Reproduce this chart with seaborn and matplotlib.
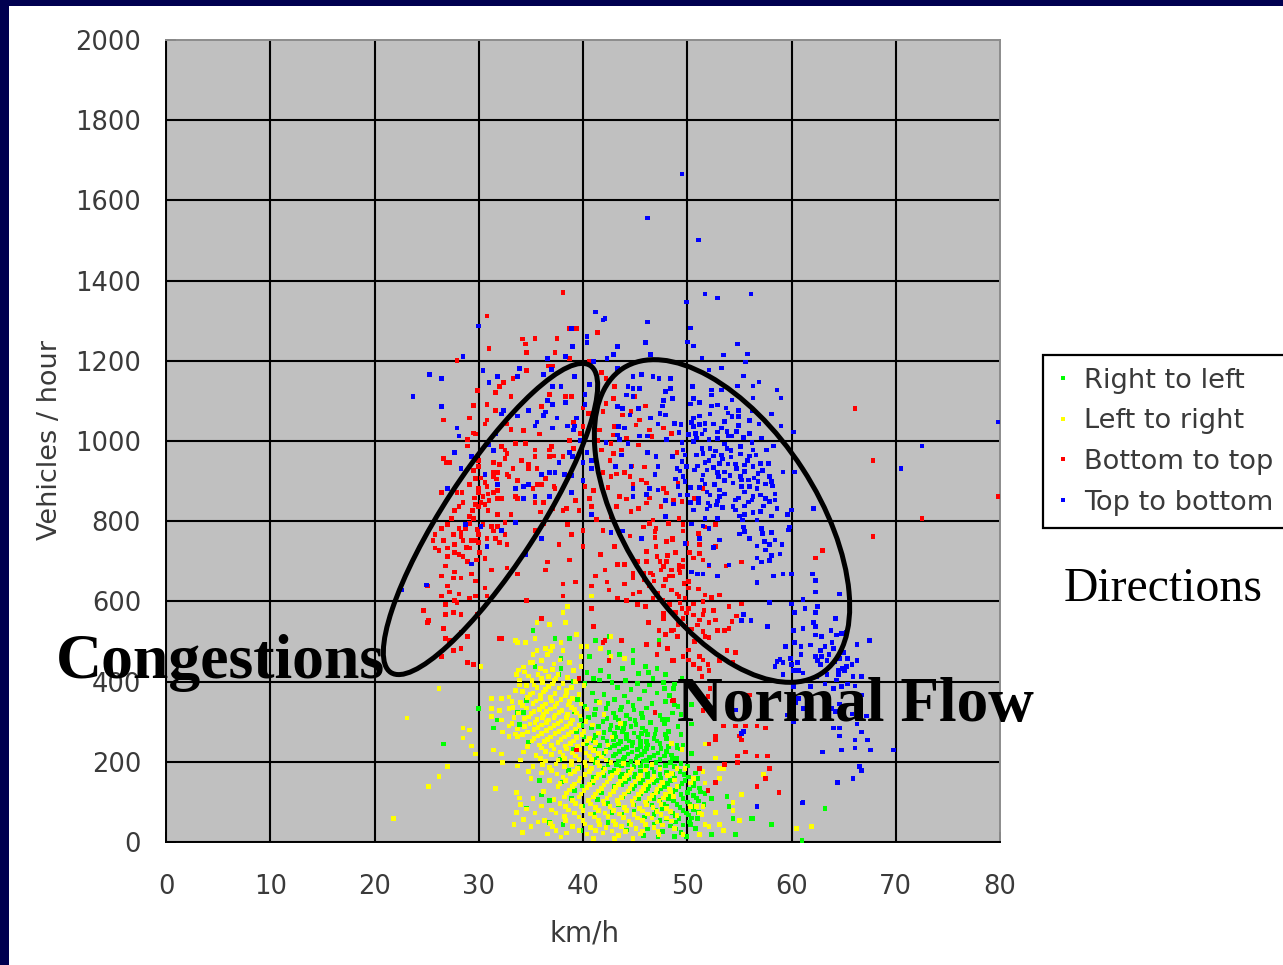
import numpy as np
import pandas as pd
import matplotlib
matplotlib.use("Agg")
import matplotlib.pyplot as plt
import seaborn as sns
from matplotlib.patches import Ellipse, Rectangle
from matplotlib.transforms import IdentityTransform

labels = ["Right to left", "Left to right", "Bottom to top", "Top to bottom"]
colors = ["#00FF00", "#FFFF00", "#FF0000", "#0000FF"]
x_ticks = list(range(0, 81, 10))
y_ticks = list(range(0, 2001, 200))

right_to_left = [
(35.2,528),(37.3,508),(38.7,508),(41.2,503),(42.5,513),(47.3,503),(35.6,478),(42.5,473),(43.5,468),(44.8,478),(40.6,463),(37.9,458),(44.8,453),(44.8,448),(35.4,438),(37.9,433),(40.4,423),(41.7,428),(43.8,433),(46,438),(47.1,433),(46.3,423),(47.9,418),(37.7,418),(42.5,413),(41,408),(30,333),(26.6,244),(31.8,304),(31.4,284),(33.7,323),(34.3,323),(34.6,353),(33.9,293),(34.8,249),(35.8,154),(36,117),(36.8,104),(34.6,84),(40,88),(36.8,49),(38.1,44),(48.8,14),
(63.2,84),(61,4),(58.1,44),(54.6,19),(56.3,59),(56.1,59),(54.4,59),(53.8,114),(54,89),(54.4,79),(52.3,19),(51,59),(50.8,34),(52.3,109),(51.7,121),(50.3,43),(50.4,221),(49.6,242),(49,242),(49,234),(48.5,217),(50.4,294),(49.1,288),(50.4,343),(49.1,338),(48.7,383),(48.8,394),(49.5,408),
(39.1,400),(40.2,395),(41.6,404),(42.8,398),(44.1,402),(45.2,396),(46.4,392),(47.7,397),(43.3,385),(44.6,380),(45.9,377),(40.9,372),(42,368),(47.1,372),(48.3,366),(39.5,356),(41.3,352),(43,356),(44.3,349),(45.4,357),(46.6,346),(47.9,351),(40.2,338),(42.2,333),(43.7,337),(44.9,329),(46.1,334),(39.2,326),(41.1,318),(42.9,322),(44.2,316),(45.6,320),(47.4,315),(48.6,322),(39.8,306),(43.4,304),(41.9,300),(45,303),(46.5,298),(44,296),(47.8,296),(42.7,290),(43.3,286),(44.6,288),(45.7,284),(40.8,284),(47,280),(48.2,276),(39.4,275),(42,273),(43.8,276),(44.9,272),(41.2,266),(46.2,268),(49.4,268),(43.1,262),(44.2,258),(45.3,262),(46.8,258),(48,258),(42.3,252),(43.6,250),(44.8,248),(46.1,250),(47.4,246),(40.4,246),(41.6,240),(43,240),(44.2,236),(45.5,238),(46.7,234),(48.2,238),(39.1,232),(42.2,228),(43.5,226),(44.7,224),(45.9,226),(47.2,222),(40.3,222),(41.5,216),(42.9,214),(44,212),(45.2,214),(46.4,210),(47.8,214),(49,208),(43.4,202),(44.6,200),(45.8,202),(47,198),(48.4,198),(41.2,198),(37.8,205),(39.6,205),(42.4,192),(43.7,190),(44.9,188),(46.1,190),(47.4,186),(48.8,188),(50,190),(38.6,178),(40.6,176),(43,178),(44.3,176),(45.5,176),(46.8,174),(48,174),(49.3,176),(42,166),(43.6,164),(44.9,162),(46.2,162),(47.5,160),(48.8,160),(50.1,162),(38,150),(40.9,148),(44.1,150),(45.5,148),(46.8,148),(48.1,146),(49.5,146),(50.6,148),(43,138),(44.8,134),(46.2,134),(47.5,132),(48.9,130),(50.2,132),(51.2,135),(39.2,128),(41.8,122),(45.5,120),(46.8,118),(48.2,116),(49.4,118),(50.6,116),(43.8,112),(47.4,104),(48.7,102),(50,100),(51.1,102),(46.1,100),(42.4,96),(44.9,92),(48,88),(49.3,86),(50.5,88),(47,78),(48.6,72),(49.9,72),(51.1,74),(41,70),(43.7,70),(45.9,62),(48,58),(49.2,58),(50.4,60),(42.4,48),(46.8,44),(48.4,40),(49.6,42),(44.2,30),(47.6,26),(49.4,24),(39.8,28),(45.8,16),
(42.4,345),(43.6,329),(44.8,341),(45.7,311),(46.9,323),(43.1,311),(44.5,307),(42.3,308),(47.6,305),(42.6,281),(43.9,283),(45.1,293),(46,277),(41.5,288),(44.2,269),(45.6,271),(43,271),(46.9,269),(47.9,268),(42.9,255),(44.4,252),(45.5,251),(41.9,259),(43.4,244),(44.7,240),(46.2,242),(47.1,252),(41.1,232),(42.6,236),(43.9,232),(45.2,230),(46.1,233),(47.5,233),(42,220),(43.1,219),(44.3,219),(45.6,218),(46.8,215),(48,226),(41.1,207),(42.4,204),(43.9,205),(45.1,206),(46.1,203),(47.4,205),(48.6,208),(41.9,185),(43.2,193),(44.3,194),(45.5,191),(46.6,186),(47.9,191),(49.4,196),(42.6,175),(43.8,170),(45,170),(46.2,172),(47.4,168),(48.6,170),(49.7,168),(50.8,172),(44.4,157),(45.7,155),(47.1,154),(48.4,153),(49.8,154),(51,158),(43.7,144),(45,141),(46.3,141),(47.8,139),(49.2,138),(50.6,140),(44.4,126),(46,127),(47.2,125),(48.6,124),(50,124),(51.3,125),(45.3,108),(46.8,108),(48.2,109),(49.6,109),(50.9,110),(46.6,92),(47.7,95),(49,94),(50.2,95),(51.6,93),(47.6,82),(49.6,79),(50.6,80),(48.9,65),(50.1,67),(46.8,68),(47.4,54),(48.9,50),(50.2,50),(44.9,76),(44.4,46),(46.2,32),(48.9,32),(47.2,12),(49.9,14),(41.2,332),(40.5,310),(39.9,291),(41,253),(40.1,262),(39.6,186),(41,162),(39.9,140),(41.4,106),(38.9,108),(43.4,92),(42.8,74),(45.3,420),(47.8,383),(46.7,407),(44,364),(48.8,342),(49.4,318),(48.1,306),(49.3,232)]

left_to_right = [
(38.5,588),(38.1,573),(35.6,548),(36.8,543),(38.3,548),(40.8,613),(39.4,518),(35.4,508),(33.5,503),(33.7,498),(34.5,498),(37.9,498),(39.8,488),(40.4,488),(42.7,513),(41.7,483),(36.4,483),(37.1,488),(35.6,478),(38.1,478),(39.8,463),(35.2,468),(36.6,468),(36,453),(35.2,448),(44,458),(42.7,463),(38.7,448),(39.8,438),(30.2,438),(26.2,383),(23.1,309),(28.5,284),(29.1,279),(28.5,259),(29.3,239),(29.7,219),(31.4,229),(32.2,219),(32.3,199),(27,189),(26.2,164),(25.2,139),(21.8,59),(31.6,134),(31.2,358),(32.2,358),(31.2,333),(32,328),(32.9,333),(31.2,313),(32.2,304),(32.9,289),(32.3,274),(32.9,263),(33.5,269),(33.7,263),(34.3,224),
(51.7,244),(52.7,209),(53.1,184),(53.5,184),(53.1,159),(57.3,169),(55.2,119),(54.4,99),(52.7,74),(55,54),(53.1,44),(53.5,29),(52.1,39),(51.2,19),(60.5,34),(61.9,39),(54.4,79),(51.5,88),(51.2,72),(51.7,147),(50.3,147),(50.6,159),(51.5,176),(49,184),(49.8,184),(48.8,155),(49,138),(48.7,113),(51.4,68),(50.3,88),(50.9,88),(49.6,18),(48.8,34),(48.5,246),(49.5,230),(48.5,171),(51.7,43),
(33.8,429),(35.9,432),(36.4,426),(37.1,430),(39.1,428),(33.6,418),(34.8,414),(35.7,418),(36.7,412),(37.6,418),(38.5,410),(33.9,404),(35.1,402),(36.1,398),(37.2,402),(38.1,396),(39.3,400),(34.6,390),(35.6,386),(36.7,388),(37.7,384),(38.9,386),(40.1,390),(33.5,378),(34.2,376),(35.2,372),(36.2,374),(37.3,370),(38.4,372),(39.6,368),(32.9,362),(34.7,360),(35.9,358),(36.9,360),(37.9,356),(39,358),(34,348),(35.2,346),(36.4,344),(37.5,346),(38.6,342),(39.8,344),(41.6,348),(33.3,336),(34.6,334),(35.8,330),(36.9,332),(38,328),(39.2,330),(40.4,332),(33.8,322),(35,320),(36.2,318),(37.3,316),(38.5,318),(39.7,314),(42,318),(34.4,308),(35.6,306),(36.7,304),(37.9,302),(39,304),(40.3,300),(33.2,296),(34.9,294),(36,292),(37.2,290),(38.4,288),(39.6,290),(40.9,292),(43.6,296),(33.7,282),(35.3,280),(36.5,278),(37.7,276),(38.9,274),(40.1,276),(41.5,272),(34.2,268),(35.7,264),(36.9,262),(38.2,262),(39.4,260),(40.6,258),(42.8,262),(35.1,252),(36.3,250),(37.6,248),(38.8,246),(40,244),(41.2,248),(42.4,242),(34.7,238),(36,234),(37.2,232),(38.4,232),(39.7,230),(41,228),(42.2,226),(35.5,216),(37,218),(38.1,216),(39.3,214),(40.6,214),(41.8,212),(34,204),(36.4,202),(37.6,204),(38.9,200),(40.2,198),(41.4,198),(42.7,198),(43.9,196),(45.2,198),(46.6,194),(35.2,188),(36.8,186),(38.2,188),(39.5,184),(40.8,184),(42.1,182),(43.4,180),(44.7,182),(46,180),(47.4,182),(36,172),(37.5,170),(38.8,170),(40.2,168),(41.5,168),(42.8,166),(44.2,166),(45.5,166),(46.8,164),(48.1,166),(35,158),(36.8,154),(38.3,154),(39.6,152),(41,152),(42.3,150),(43.6,152),(45,150),(46.3,150),(47.6,148),(37.6,138),(39,138),(40.4,136),(41.8,134),(43.1,136),(44.5,134),(45.8,134),(47.1,132),(48.3,132),(33.6,124),(36.2,126),(38.4,122),(39.8,120),(41.2,120),(42.6,118),(44,120),(45.3,118),(46.6,116),(47.9,118),(35.2,108),(37.2,106),(39,104),(40.5,104),(41.9,102),(43.3,104),(44.7,102),(46,100),(47.3,102),(34,94),(36,90),(38.3,88),(39.8,88),(41.2,86),(42.6,88),(44,86),(45.4,84),(46.7,86),(48,84),(33.6,74),(35.4,72),(37.4,72),(39.2,72),(40.7,70),(42.1,72),(43.5,70),(44.9,68),(46.2,70),(47.5,68),(49,66),(34.3,56),(36.3,54),(38.3,54),(40,54),(41.5,54),(42.9,52),(44.4,52),(45.7,54),(47.1,50),(48.5,52),(33.4,44),(35,38),(37.1,38),(39,38),(40.7,36),(42.2,36),(43.7,38),(45.1,34),(46.8,36),(34.2,24),(36.6,20),(38.4,22),(40.4,20),(41.9,22),(43.4,16),(45.5,20),(47.3,18),(37.9,12),(41,8),(44.8,8),
(34.4,424),(36,408),(37.4,408),(35.3,392),(36.4,380),(37.1,394),(38.4,378),(34.9,368),(35.9,366),(37,352),(38.3,364),(35.5,352),(36.1,338),(37.3,338),(38.7,350),(34.2,340),(35.3,326),(36.5,325),(37.7,323),(38.9,336),(34.8,312),(36.1,310),(37.2,310),(38.4,310),(39.4,322),(35.4,298),(36.5,298),(37.6,296),(38.8,296),(34.4,288),(35.7,286),(36.9,284),(38.1,282),(39.3,282),(34.7,274),(36,271),(37.3,270),(38.6,268),(39.9,268),(35.3,258),(36.6,256),(37.9,255),(39.1,252),(40.4,252),(35.8,242),(37,240),(38.3,239),(39.5,238),(40.7,236),(36.4,226),(37.8,224),(39,222),(40.3,222),(41.5,220),(35.9,208),(38.2,208),(39.6,206),(40.8,206),(42.2,204),(36.1,194),(37.4,195),(38.9,192),(40.3,190),(41.6,190),(37,178),(39.2,176),(40.6,176),(41.9,174),(43.2,172),(44.5,174),(38.1,162),(39.7,160),(41.3,160),(42.6,158),(44,158),(45.3,158),(46.6,156),(37.8,146),(39.2,145),(40.6,144),(42,142),(43.4,144),(44.7,142),(46,142),(47.4,140),(38.7,130),(40.1,128),(41.5,127),(42.9,126),(44.3,127),(45.6,126),(47,124),(48.4,125),(38.2,112),(39.6,112),(41,112),(42.3,110),(43.7,111),(45,110),(46.4,108),(47.7,110),(37.8,96),(39.3,96),(40.7,95),(42,95),(43.4,95),(44.8,94),(46.1,92),(47.5,93),(37,80),(38.6,80),(40,79),(41.5,78),(42.9,79),(44.2,78),(45.7,77),(47.1,76),(48.4,76),(38.2,63),(39.6,62),(41.1,62),(42.4,63),(43.9,61),(45.2,60),(46.6,60),(48,60),(36.9,46),(40.2,45),(41.6,44),(43.1,44),(44.6,44),(46,44),(47.6,42),(39.6,29),(41.2,28),(42.8,27),(44.1,26),(45.7,27),(47.2,26),(43,8),(37.4,28),(35.7,50),(34.6,82),(33.9,110),(34.8,176),(33.7,190),(33.4,310),(33.2,350),(33.9,392),(34.3,436),(34.9,448),(37.2,444),(37.8,454),(36.9,476)]

bottom_to_top = [
(38.1,1371),(30.8,1312),(39.4,1281),(38.7,1281),(41.4,1271),(34.2,1254),(35.4,1256),(37.5,1256),(34.5,1242),(31,1231),(34.6,1221),(37.3,1221),(27.9,1201),(38.7,1206),(36.7,1187),(37.1,1187),(34.6,1176),(40.6,1198),(41.8,1171),(33.3,1156),(32.4,1146),(32,1136),(29.9,1126),(31.6,1121),(33.1,1111),(36.8,1116),(38.3,1111),(38.9,1111),(29.5,1088),(30.8,1091),(36,1086),(31.6,1076),(26.6,1052),(29.1,1057),(30.8,1052),(30.6,1042),(32.7,1042),(34.3,1026),(35.8,1017),(29.5,1020),(28.9,1003),
(29.7,1017),(28.9,988),(33.5,994),(34.5,994),(32.2,987),(37,987),(38.7,1001),(39.1,982),(26.6,957),(26.9,947),(27.2,947),(32.5,978),(35.4,978),(36.8,978),(32.7,969),(35.4,961),(38.1,961),(36.8,961),(34.1,952),(30,952),(31.4,947),(32.5,957),(32,942),(34.8,942),(29.5,927),(30,937),(31.4,922),(31.8,922),(32.7,917),(34.8,932),(35.6,932),(29.7,907),(31.4,912),(32.9,912),(33.7,902),(29.1,892),(30.6,897),(30.8,887),(35.6,892),(36,892),(36.4,907),(37.2,886),(30,882),(26.4,872),(27.9,872),(28.4,872),(31.8,877),(31.4,872),(40.2,887),(41,877),(30,872),(37.3,882),(33.5,862),(33.7,857),(35.2,882),(31.8,857),(32.2,857),(31,852),(39.3,852),(40.6,857),(36.2,847),(35.4,847),(30.2,847),(28.5,847),(30.6,842),(28.1,837),(27.7,827),(30,837),(29.7,842),(38.1,827),(38.4,832),(40.8,836),(37.1,832),(39.6,827),(31.8,817),(33.1,817),(27.4,807),(29.1,812),(29.5,807),(27,792),(32.5,797),(36.2,795),(38.5,792),(31.2,787),(31.8,787),(26.4,782),(28.1,782),(28.3,772),(35.4,777),(40,777),(41.9,777),(25.8,767),(27.6,767),(28.3,762),(30,767),(32.5,767),(38.9,767),(25.6,752),(26.6,752),(28.5,752),(29.7,752),(30.8,757),(31.6,757),(32,747),(29.3,752),(30,747),(27.7,742),(37.7,742),(32.7,742),(25.8,733),(26.2,727),(27,733),(29.1,733),(40,737),(30.1,722),(27.7,722),(28.1,717),(28.5,712),(27,712),(38.7,703),(29.8,703),(36.6,698),(41.7,717),(43.3,692),(44,692),(26.8,688),(32.7,683),(31.2,678),(27.7,673),(29.3,668),(33.7,668),(36.4,678),(26.4,663),(27.6,658),(28.3,658),(41.2,663),(42.1,678),
(42.2,1156),(43,1136),(42.9,1106),(45,1111),(42.2,1094),(41.9,1073),(41,1069),(40,1082),(40.5,1069),(44.6,1073),(46,1087),(43.8,1065),(45.4,1052),(40,1036),(43,1036),(45.1,1040),(46.4,1027),(47.7,1032),(42.9,1015),(41.6,1027),(46.6,1011),(44.2,1007),(42.7,994),(45.3,990),(41.8,978),(42.9,969),(43.7,978),(42.6,952),(41.9,922),(43.2,918),(44,922),(42.7,911),(44.5,911),(45.6,903),(46.1,895),(44.8,893),(47.7,882),(43.5,861),(43.2,836),(44.6,824),(45.3,832),(46.1,845),(47.5,836),(42.7,811),(46.7,803),(48.2,795),(45.8,786),(47,782),(46.4,795),(44.5,763),(46.9,774),(48.6,757),(48,749),(47,737),(43,737),(46.1,699),(47.4,699),(48,699),(46.1,724),(47.7,687),(48.3,663),(48.6,663),(44.8,670),(46.7,666),(45.8,670),(47.5,678),(44.8,658),
(66.1,1081),(67.8,952),(72.5,807),(79.8,862),(67.8,762),(63,727),(62.3,708),(55.2,698),(53.7,688),(48.5,1019),(49,972),(51.5,882),(50.7,857),(49.5,849),(48.7,853),(49.2,807),(52.7,792),(51.7,786),(49.6,792),(49.6,776),(51.1,770),(48.6,755),(52.7,737),(51.2,720),(50.2,722),(51.5,703),(50.6,708),(49.6,703),(49.6,687),(49.2,680),(49.3,672),(48.5,678),(52.1,688),
(50.1,649),(50.1,633),(48.5,628),(49.2,612),(51.7,616),(52.3,610),(53.1,616),(51.5,599),(49.8,608),(50.6,594),(54,588),(55.2,594),(49.5,583),(50.1,583),(51.6,577),(52.5,577),(51.5,568),(54.7,564),(49.6,558),(51.2,554),(52.7,554),(52.1,548),(54.3,550),(48.7,529),(49.8,537),(51.5,525),(52.9,528),(54,533),(53.6,528),(51.7,512),(52.1,510),(49.1,512),(50.7,500),(50.1,479),(53.8,478),(54.6,473),(48.7,453),(49.6,463),(50.1,454),(51.2,463),(53.1,453),(54.4,448),(51.5,454),(50.6,443),(52,443),(51.2,433),(52.1,428),(51.4,412),(52.2,383),(56,367),(48.7,353),(52,363),(51.5,328),(53.5,289),(54.6,289),(55.6,289),(56.7,289),(57.5,284),(55,264),(52.7,263),(55.2,254),(52.1,244),(52.7,254),(55.6,224),(56.7,214),(57.7,214),(54.8,214),(54.8,199),(53.6,194),(51.2,184),(57.9,184),(57.5,159),(56.7,139),(52.7,149),(58.8,124),(52,129),
(25.1,638),(27,638),(29.7,651),(27.2,623),(28.1,618),(30.6,633),(26.4,613),(29.7,613),(30.8,613),(29.1,608),(27.7,603),(27.9,598),(26.8,593),(24.7,578),(27.6,573),(26.8,568),(28.3,568),(29.9,568),(25.2,553),(25.1,548),(26.6,533),(28.3,523),(26.8,508),(27.2,503),(28.9,513),(28.3,483),(27.6,478),(26.4,463),(28.9,448),(29.5,443),(32,508),(32.2,508),(36,558),(38.1,643),(38.1,613),(34.6,603),(39.3,648),(40.8,638),(42.3,648),(44,643),(42.5,628),(43.3,608),(44.8,618),(45.4,623),(44.2,603),(45.2,593),(46,588),(46.7,608),(47.7,638),(48.5,628),(49,618),(40.8,583),(48.3,593),(47.7,570),(47.7,558),(46.3,548),(41,538),(47.3,528),(48.5,528),(47.9,518),(49,513),(43.7,503),(41.9,498),(42.1,503),(46.1,493),(47.3,493),(48.1,483),(47.1,468),(42.5,453),(48.6,453),(39.6,408),(48.6,352),(46.9,323),(39.4,229),
(30.4,862),(29.4,826),(30.9,826),(29.1,795),(30.4,792),(28.7,782),(31.4,776),(30.9,868),(29.6,858),(29.9,780),(28.8,735),(30.6,707),(28.9,700),(31.7,905),(33.3,932),(30.2,908),(46.8,651),(47.2,621),(47.6,602),(49.7,645),(49.3,596),(49.9,571),(50.6,566),(51.1,631),(48.9,573),(50.4,531),(51,541),(49.1,542),(47.9,655),(46.4,640),(45.9,655),(46.5,671),(48.9,722),(49.9,745),(51.2,742),(48.1,715),(47.1,712),(46.9,760),(49.2,691),(45.2,700),(48,870),(45.9,935),(44.2,855),(49.1,894),(42.4,884),(41.3,804),(38.6,915),(37.2,963),(35.9,823),(33.1,1028),(41.4,1001),(39.1,1046),(39.7,1019),(44.7,938),(46.4,858)]

top_to_bottom = [
(49.5,1666),(46.2,1556),(51.1,1501),(49.9,1347),(51.7,1367),(52.9,1357),(56.1,1367),(50.3,1282),(50,1247),(50.6,1237),(54.8,1242),(55.8,1217),(53.5,1214),(51.4,1207),(55.6,1197),(52.1,1177),(53.3,1182),(55.4,1162),(56.9,1147),(54.8,1137),(56.3,1137),(58.6,1127),(59,1107),(56.3,1107),(50.5,1136),(52.3,1127),(52.3,1115),(53.3,1127),(54.3,1102),(50.6,1106),(51.2,1096),(50.3,1092),(52.3,1087),(52.9,1090),(53.7,1082),(54.9,1076),(56.2,1076),(58.1,1067),(52.2,1067),(51.2,1062),(54.3,1061),(54.9,1061),(56,1051),(50.6,1057),(50.4,1046),(51.7,1044),(52.5,1042),(51.2,1041),(53.6,1049),(54.9,1039),(56.9,1042),(59,1037),(60.2,1022),(50.6,1036),(51.7,1027),(53.3,1032),(53.8,1023),(56,1019),(54.3,1012),(50.8,1018),(49.2,1021),(50.9,1007),(52.9,1006),(57.1,1007),(52.1,1003),(56.2,997),(49.5,997),(50.6,998),(53.6,993),(58.3,988),(72.5,988),(53.8,981),(51.4,982),(52.2,982),(57.6,978),(56.3,978),(51.5,969),(50.9,965),(52.5,963),(53.3,965),(56,963),(56.6,965),(49.6,978),(49.5,949),(49.8,965),(53.1,944),(51.7,946),(53.9,943),(54.6,943),(55.5,940),(57,944),(57.8,944),(52.5,934),(51.9,928),(50.7,928),(54.7,932),(56.3,936),(70.5,932),(59.2,923),(60.3,923),(53.6,923),(55.5,924),(56.8,919),(51.5,915),(53,911),(57.9,911),(58.1,899),(51.4,903),(55.2,903),(55.9,903),(56.8,899),(54.4,895),(57.5,893),(49.8,899),(51.7,893),(55.2,886),(56,886),(58.2,888),(56.7,882),(50.3,884),(49.1,886),(51.9,873),(53.1,878),(55.5,873),(52.2,865),(53.6,868),(49.3,865),(50,865),(57,865),(58.4,868),(57.5,857),(56.3,861),(58.4,853),(54.6,853),(57.9,849),(56.2,853),(51.1,846),(52,845),(50.3,846),(48.7,843),(52.8,840),(54.4,836),(55.5,838),(57.3,838),(60,828),(62.1,832),(58.6,832),(50.6,828),(51.9,830),(54.6,828),(56.3,822),(57,824),(59.6,817),(55.5,817),(55,813),(58.1,813),(51.7,807),(52.9,807),(55.3,803),(56.7,803),(59.8,786),(50.4,793),(51.5,788),(52.1,782),(55.4,786),(57.1,782),(59.7,778),(55.5,774),(58.1,772),(55,768),(56,757),(57.2,770),(51.2,757),(53.1,753),(58.4,753),(57.4,749),(49.8,745),(57.9,742),(59.1,742),(56.7,738),(52.5,734),(57.5,728),(58.9,718),(58.1,715),(56.7,708),(57.9,702),(57.1,698),(54,691),(56.3,683),(52.1,691),(50.4,673),(51,668),(51.5,668),(52.9,663),(58.3,663),(59.2,668),(60,668),(62,668),(62.3,653),(79.8,1047),
(56.7,647),(62.3,651),(62.3,623),(64.6,618),(57.9,598),(60,594),(61.1,604),(62.5,588),(61.3,583),(60.3,573),(62.3,573),(55.4,568),(64.2,558),(55.2,553),(56.1,553),(62.1,548),(57.7,538),(61.1,533),(60.2,528),(62.3,537),(63.8,528),(65.3,523),(64.8,520),(62.3,516),(62.9,513),(64.3,516),(67.5,503),(66.3,493),(60.3,498),(59.4,488),(60.9,488),(61.8,491),(62.8,478),(63.2,487),(64,483),(65,473),(60.9,468),(62.3,463),(63.6,468),(64.6,458),(65.4,458),(62.5,453),(66.3,453),(58.6,450),(59.2,448),(60.6,448),(62.8,443),(65.8,443),(58.4,438),(60,443),(60.2,428),(60.7,428),(64.5,428),(65.1,428),(59.2,418),(63.4,418),(64.5,417),(65.9,412),(66.7,412),(60.2,388),(61.8,388),(63.2,394),(65.4,394),(66.1,389),(64.8,388),(64,383),(66.7,367),(60.7,358),(63.2,350),(64.6,344),(60.4,348),(61.1,333),(63.9,333),(65.8,319),(64.2,325),(67.2,314),(59.6,317),(60.2,299),(66.3,294),(64,284),(64.6,284),(66.7,274),(64.6,264),(66.1,254),(67.3,254),(66.1,234),(63,224),(64.8,229),(67.6,229),(69.8,229),(66.5,189),(66.7,179),(65.9,159),(64.4,149),(61.1,99),(56.7,89),(54.6,329),(55.4,275),(55.2,271),
(30,1287),(41.2,1322),(42.1,1306),(41.9,1302),(46.2,1297),(38.9,1281),(40.4,1261),(40.4,1246),(39,1236),(43.3,1236),(46,1246),(42.9,1216),(46.5,1216),(28.5,1211),(42.3,1206),(38.3,1211),(36.6,1206),(41,1198),(33.9,1181),(37,1178),(30.4,1176),(43.3,1181),(25.3,1166),(26.4,1156),(31.8,1161),(33.7,1161),(36.2,1166),(39.2,1161),(31,1146),(37.1,1136),(37.9,1136),(40.6,1141),(44.8,1161),(45.6,1166),(46.7,1161),(47.3,1156),(48.4,1156),(44.3,1136),(44.8,1131),(45.4,1131),(47.9,1123),(48.4,1131),(23.7,1111),(40.2,1116),(44.2,1115),(44.8,1111),(48.6,1106),(47.7,1101),(36.6,1101),(26.4,1086),(37.1,1091),(38.3,1096),(40.2,1091),(43.3,1086),(43.8,1081),(45.3,1081),(47.6,1087),(32.4,1076),(34.8,1076),(36.4,1072),(36.2,1063),(33.7,1062),(32.2,1067),(39.4,1057),(37.5,1057),(44.5,1065),(46.5,1057),(47.4,1069),(47.9,1065),(35.6,1047),(27.9,1032),(35.4,1037),(37.1,1032),(38.5,1037),(39.2,1037),(47.2,1042),(48.8,1044),(43.4,1036),(44,1032),(28.1,1012),(39.1,1027),(31.6,1017),(39.7,1002),(43.3,1015),(45.4,1012),(46.2,1012),(48,1003),(42.2,997),(43.5,1003),(44.3,994),(31,990),(31.4,977),(27.7,972),(29.3,962),(40.4,972),(38.7,972),(39,962),(46.2,972),(43.7,965),(47,961),(48.6,961),(37.7,947),(40.8,952),(40,947),(28.3,932),(40.8,932),(43.1,937),(44.6,937),(47.2,936),(49,932),(30.6,917),(36,917),(36.8,922),(37.3,922),(38.2,917),(38.9,914),(46.9,917),(40,902),(34.8,892),(31.8,892),(27,882),(34.3,887),(33.5,882),(44.8,882),(46.4,882),(47.2,878),(38.9,872),(35.4,862),(36.8,862),(34.3,857),(44.8,861),(46.1,867),(47.9,851),(40.8,817),(47.9,811),(33.5,797),(30.2,787),(28.7,792),(42.7,772),(43.8,776),(32.2,777),(36,757),(45.6,757),(30.8,737),(29.3,693),(34.5,717),(25,641),(22.6,628),(61,97),
(52.7,975),(53.4,955),(54.2,960),(55.1,968),(55.8,952),(52.1,952),(51,938),(49.9,936),(52.9,922),(54.1,914),(55.1,912),(56.4,908),(57.2,927),(53.6,902),(52.6,892),(51.2,884),(53.1,862),(54.9,858),(55.9,848),(51.1,858),(52.9,850),(52.2,838),(53.4,834),(49.6,912),(48.9,905),(49.3,925),(53.9,1012),(55.4,1008),(52.9,1022),(54.7,1024),(55.1,987),(54.2,977),(51.4,1017),(50.1,1016),(49.4,1041),(53.9,1070),(63.4,452),(62.9,462),(64.1,449),(63.9,497),(64.9,433),(65.3,438),(64.3,404),(62.4,411),(61.1,421),(59.9,458),(58.9,455)]

series = [right_to_left, left_to_right, bottom_to_top, top_to_bottom]
frames = []
for name, pts in zip(labels, series):
    a = np.array(pts, dtype=float)
    frames.append(pd.DataFrame({"km/h": a[:, 0], "Vehicles / hour": a[:, 1], "Direction": name}))
df = pd.concat(frames, ignore_index=True)

W, H = 1283, 965
sns.set_theme(style="white")
plt.rcParams["font.family"] = ["DejaVu Sans"]
fig = plt.figure(figsize=(W / 100, H / 100), dpi=100, facecolor="white")
ax = fig.add_axes([166 / W, 1 - 842 / H, 834 / W, 802 / H])
ax.set_facecolor("#C0C0C0")

sns.scatterplot(data=df, x="km/h", y="Vehicles / hour", hue="Direction", hue_order=labels,
                palette=dict(zip(labels, colors)), marker="s", s=11, linewidth=0, ax=ax,
                zorder=3, clip_on=False)

ax.set_xlim(0, 80)
ax.set_ylim(0, 2000)
ax.set_xticks(x_ticks)
ax.set_yticks(y_ticks)
ax.set_axisbelow(True)
ax.grid(True, color="black", linewidth=1.5)
ax.xaxis.get_gridlines()[-1].set_visible(False)
ax.yaxis.get_gridlines()[-1].set_visible(False)
txt = "#3a3a3a"
ax.tick_params(axis="x", direction="in", length=7, width=1.4, color="black", pad=23,
               labelsize=18.5, labelcolor=txt, bottom=True)
ax.tick_params(axis="y", direction="in", length=7, width=1.4, color="black", pad=18,
               labelsize=18.5, labelcolor=txt, left=True)
ax.set_xlabel("km/h", fontsize=20, color=txt, va="center")
ax.set_ylabel("Vehicles / hour", fontsize=19.5, color=txt, va="center")
ax.xaxis.set_label_coords((585 - 166) / 834, (842 - 934) / 802)
ax.yaxis.set_label_coords((50 - 166) / 834, (842 - 440) / 802)
for side in ("left", "bottom"):
    ax.spines[side].set_color("black")
    ax.spines[side].set_linewidth(1.4)
for side in ("top", "right"):
    ax.spines[side].set_color("#8c8c8c")
    ax.spines[side].set_linewidth(1.4)

handles, leg_labels = ax.get_legend_handles_labels()
leg = ax.legend(handles, leg_labels, loc="upper left", bbox_transform=fig.transFigure,
                bbox_to_anchor=(1043 / W, 1 - 355 / H), borderaxespad=0, fontsize=19.6,
                frameon=True, fancybox=False, edgecolor="black", framealpha=1,
                labelspacing=0.54, handlelength=0.55, handletextpad=0.5, borderpad=0.46,
                labelcolor=txt, markerscale=0.8)
leg.get_frame().set_linewidth(1.6)

# Hand-drawn annotation shapes, placed in figure pixels
for cx, cy, a, b, ang in [(490.5, 519, 183, 47, 57), (722, 521, 182, 96, -57)]:
    fig.add_artist(Ellipse((cx, H - cy), 2 * a, 2 * b, angle=ang, fill=False, edgecolor="black",
                           linewidth=3.6, transform=IdentityTransform(), zorder=5))

serif = ["Liberation Serif", "DejaVu Serif"]
def ptext(px, py, s, **kw):
    fig.text(px / W, 1 - py / H, s, va="baseline", family=serif, color="black", zorder=6, **kw)
ptext(56, 678, "Congestions", fontsize=45.9, fontweight="bold")
ptext(677, 721, "Normal Flow", fontsize=45.5, fontweight="bold")
ptext(1064, 601, "Directions", fontsize=34.4)

# Slide frame
navy = "#000050"
fig.add_artist(Rectangle((0, 1 - 6 / H), 1, 6 / H, transform=fig.transFigure, color=navy, lw=0))
fig.add_artist(Rectangle((0, 0), 9 / W, 1, transform=fig.transFigure, color=navy, lw=0))

fig.savefig("out.png", dpi=100, facecolor="white")
